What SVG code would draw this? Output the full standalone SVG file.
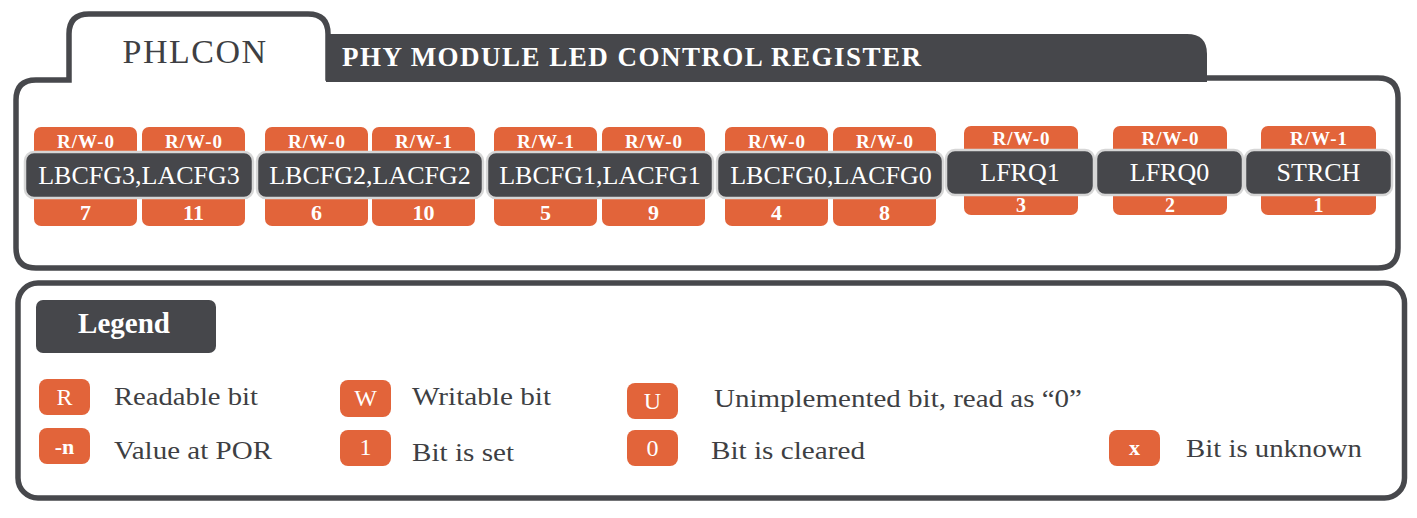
<svg xmlns="http://www.w3.org/2000/svg" width="1417" height="518" viewBox="0 0 1417 518">
<style>
.frame{fill:none;stroke:#47484c;stroke-width:5.5}
.dark{fill:#46474b}
.reg{fill:#46474b;stroke:#d6d6d6;stroke-width:2.5}
.or{fill:#e2643a}
.t{font-family:"Liberation Serif","Times New Roman",serif;fill:#ffffff}
.acc{font-size:19px;font-weight:bold;letter-spacing:1px;text-anchor:middle}
.num{font-size:22px;font-weight:bold;text-anchor:middle}
.num2{font-size:20px;font-weight:bold;text-anchor:middle}
.name{font-size:26px;text-anchor:middle}
.lt{font-family:"Liberation Serif","Times New Roman",serif;fill:#3e3f43;font-size:26px}
.bt{font-family:"Liberation Serif","Times New Roman",serif;fill:#ffffff;font-size:24px;text-anchor:middle}
</style>
<rect width="1417" height="518" fill="#ffffff"/>

<g id="register-frame">
<path class="frame" d="M16,248 L16,100 Q16,80 36,80 L69,80 L69,34 Q69,14 89,14 L308,14 Q328,14 328,34 L328,78 L1378,78 Q1398,78 1398,98 L1398,248 Q1398,268 1378,268 L36,268 Q16,268 16,248 Z"/>
<path class="dark" d="M326,34 L1187,34 Q1207,34 1207,54 L1207,82 L326,82 Z"/>
<text x="195" y="63" style="font-family:'Liberation Serif','Times New Roman',serif;font-size:34px;fill:#3e3f43;text-anchor:middle;letter-spacing:1.5px">PHLCON</text>
<text x="342" y="66" class="t" style="font-size:27px;font-weight:bold" textLength="579" lengthAdjust="spacing">PHY MODULE LED CONTROL REGISTER</text>
</g>

<g id="bits-7-11">
<rect class="or" x="34" y="127" width="103" height="40" rx="7"/>
<rect class="or" x="142" y="127" width="103" height="40" rx="7"/>
<rect class="or" x="34" y="186" width="103" height="40" rx="7"/>
<rect class="or" x="142" y="186" width="103" height="40" rx="7"/>
<rect class="reg" x="25" y="152" width="228" height="46" rx="9"/>
<text class="t acc" x="86" y="148">R/W-0</text>
<text class="t acc" x="194" y="148">R/W-0</text>
<text class="t name" x="139" y="184">LBCFG3,LACFG3</text>
<text class="t num" x="85.5" y="220">7</text>
<text class="t num" x="193.5" y="220">11</text>
</g>

<g id="bits-6-10">
<rect class="or" x="265" y="127" width="103" height="40" rx="7"/>
<rect class="or" x="372" y="127" width="103" height="40" rx="7"/>
<rect class="or" x="265" y="186" width="103" height="40" rx="7"/>
<rect class="or" x="372" y="186" width="103" height="40" rx="7"/>
<rect class="reg" x="257" y="152" width="226" height="46" rx="9"/>
<text class="t acc" x="317" y="148">R/W-0</text>
<text class="t acc" x="424" y="148">R/W-1</text>
<text class="t name" x="370" y="184">LBCFG2,LACFG2</text>
<text class="t num" x="316.5" y="220">6</text>
<text class="t num" x="423.5" y="220">10</text>
</g>

<g id="bits-5-9">
<rect class="or" x="494" y="127" width="103" height="40" rx="7"/>
<rect class="or" x="602" y="127" width="103" height="40" rx="7"/>
<rect class="or" x="494" y="186" width="103" height="40" rx="7"/>
<rect class="or" x="602" y="186" width="103" height="40" rx="7"/>
<rect class="reg" x="487" y="152" width="226" height="46" rx="9"/>
<text class="t acc" x="546" y="148">R/W-1</text>
<text class="t acc" x="654" y="148">R/W-0</text>
<text class="t name" x="600" y="184">LBCFG1,LACFG1</text>
<text class="t num" x="545.5" y="220">5</text>
<text class="t num" x="653.5" y="220">9</text>
</g>

<g id="bits-4-8">
<rect class="or" x="725" y="127" width="103" height="40" rx="7"/>
<rect class="or" x="833" y="127" width="103" height="40" rx="7"/>
<rect class="or" x="725" y="186" width="103" height="40" rx="7"/>
<rect class="or" x="833" y="186" width="103" height="40" rx="7"/>
<rect class="reg" x="717" y="152" width="226" height="46" rx="9"/>
<text class="t acc" x="777" y="148">R/W-0</text>
<text class="t acc" x="885" y="148">R/W-0</text>
<text class="t name" x="831" y="184">LBCFG0,LACFG0</text>
<text class="t num" x="776.5" y="220">4</text>
<text class="t num" x="884.5" y="220">8</text>
</g>

<g id="bit-3">
<rect class="or" x="964" y="126" width="114" height="40" rx="7"/>
<rect class="or" x="964" y="176" width="114" height="39" rx="7"/>
<rect class="reg" x="946" y="150" width="148" height="45" rx="9"/>
<text class="t acc" x="1021.5" y="145">R/W-0</text>
<text class="t name" x="1020" y="181">LFRQ1</text>
<text class="t num2" x="1021" y="212">3</text>
</g>

<g id="bit-2">
<rect class="or" x="1113" y="126" width="114" height="40" rx="7"/>
<rect class="or" x="1113" y="176" width="114" height="39" rx="7"/>
<rect class="reg" x="1096" y="150" width="147" height="45" rx="9"/>
<text class="t acc" x="1170.5" y="145">R/W-0</text>
<text class="t name" x="1169.5" y="181">LFRQ0</text>
<text class="t num2" x="1170" y="212">2</text>
</g>

<g id="bit-1">
<rect class="or" x="1261" y="126" width="115" height="40" rx="7"/>
<rect class="or" x="1261" y="176" width="115" height="39" rx="7"/>
<rect class="reg" x="1245" y="150" width="147" height="45" rx="9"/>
<text class="t acc" x="1319" y="145">R/W-1</text>
<text class="t name" x="1318.5" y="181">STRCH</text>
<text class="t num2" x="1318.5" y="212">1</text>
</g>

<g id="legend">
<rect class="frame" x="18" y="283" width="1386.5" height="215" rx="20"/>
<rect class="dark" x="36" y="300" width="180" height="53" rx="7"/>
<text class="t" x="124" y="333" style="font-size:29px;font-weight:bold;text-anchor:middle">Legend</text>

<rect class="or" x="39" y="379" width="51" height="36" rx="8"/>
<text class="bt" x="64.5" y="405">R</text>
<text class="lt" x="114" y="405" textLength="144" lengthAdjust="spacingAndGlyphs">Readable bit</text>

<rect class="or" x="39" y="428" width="51" height="36" rx="8"/>
<text class="bt" x="64.5" y="454" style="font-weight:bold;font-size:22px">-n</text>
<text class="lt" x="114" y="459" textLength="158" lengthAdjust="spacingAndGlyphs">Value at POR</text>

<rect class="or" x="340" y="380" width="51" height="37" rx="8"/>
<text class="bt" x="365.5" y="406">W</text>
<text class="lt" x="412" y="405" textLength="139" lengthAdjust="spacingAndGlyphs">Writable bit</text>

<rect class="or" x="340" y="430" width="51" height="36" rx="8"/>
<text class="bt" x="365.5" y="455">1</text>
<text class="lt" x="412" y="461" textLength="102" lengthAdjust="spacingAndGlyphs">Bit is set</text>

<rect class="or" x="627" y="383" width="51" height="36" rx="8"/>
<text class="bt" x="652.5" y="409">U</text>
<text class="lt" x="714" y="407" textLength="368" lengthAdjust="spacingAndGlyphs">Unimplemented bit, read as “0”</text>

<rect class="or" x="627" y="430" width="51" height="36" rx="8"/>
<text class="bt" x="652.5" y="456">0</text>
<text class="lt" x="711" y="459" textLength="154" lengthAdjust="spacingAndGlyphs">Bit is cleared</text>

<rect class="or" x="1109" y="430" width="51" height="36" rx="8"/>
<text class="bt" x="1134.5" y="455" style="font-weight:bold;font-size:22px">x</text>
<text class="lt" x="1186" y="457" textLength="176" lengthAdjust="spacingAndGlyphs">Bit is unknown</text>
</g>
</svg>
